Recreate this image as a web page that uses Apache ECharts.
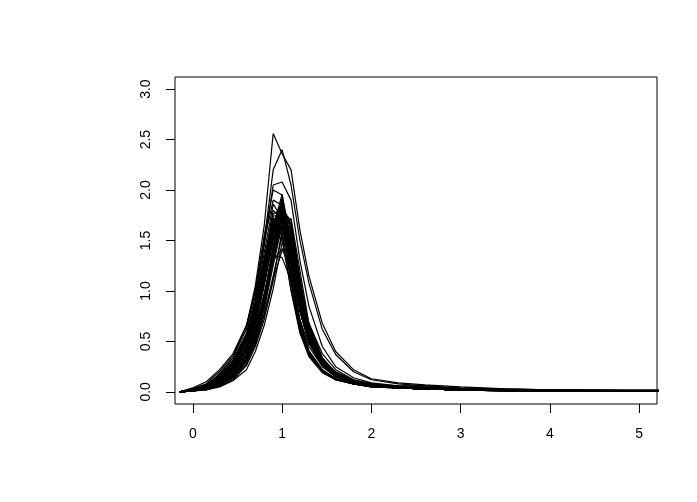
<!DOCTYPE html>
<html>
<head>
<meta charset="utf-8">
<script src="https://cdn.jsdelivr.net/npm/echarts@6/dist/echarts.min.js"></script>
<style>
  html, body { margin: 0; padding: 0; background: #fff; }
  #chart { width: 697px; height: 502px; }
</style>
</head>
<body>
<div id="chart"></div>
<script>
// shared x positions of the sample points
const xs = [-0.15, 0, 0.15, 0.3, 0.45, 0.6, 0.7, 0.8, 0.9, 1.0, 1.1, 1.2, 1.3, 1.45, 1.6, 1.8, 2.0, 2.3, 2.6, 3.0, 3.5, 4.0, 4.5, 5.0, 5.3];

// outlying curves (highest peaks / broad right side)
const out1 = [0, 0.03, 0.08, 0.2, 0.36, 0.65, 1.05, 1.65, 2.56, 2.36, 2.2, 1.6, 1.15, 0.68, 0.4, 0.22, 0.13, 0.09, 0.07, 0.05, 0.03, 0.02, 0.02, 0.02, 0.02];
const out2 = [0, 0.02, 0.07, 0.17, 0.32, 0.58, 0.95, 1.5, 2.2, 2.4, 2.05, 1.5, 1.08, 0.62, 0.37, 0.2, 0.12, 0.08, 0.06, 0.04, 0.03, 0.02, 0.02, 0.01, 0.01];
const out3 = [0, 0.02, 0.06, 0.15, 0.3, 0.55, 0.9, 1.45, 2.05, 2.08, 1.9, 1.3, 0.85, 0.45, 0.25, 0.14, 0.09, 0.06, 0.05, 0.03, 0.02, 0.02, 0.01, 0.01, 0.01];
const out4 = [0, 0.02, 0.06, 0.18, 0.34, 0.62, 1.0, 1.55, 2.0, 1.95, 1.5, 0.95, 0.6, 0.32, 0.2, 0.12, 0.08, 0.05, 0.04, 0.03, 0.02, 0.01, 0.01, 0.01, 0.01];
const out5 = [0, 0.04, 0.1, 0.22, 0.38, 0.66, 1.0, 1.5, 1.9, 1.85, 1.4, 0.85, 0.5, 0.27, 0.16, 0.1, 0.07, 0.05, 0.04, 0.03, 0.02, 0.02, 0.01, 0.01, 0.01];

// early-peaking curves
const e1 = [0, 0.02, 0.06, 0.14, 0.28, 0.52, 0.84, 1.3, 1.8, 1.7, 1.1, 0.62, 0.37, 0.2, 0.12, 0.08, 0.05, 0.04, 0.03, 0.02, 0.02, 0.01, 0.01, 0.01, 0.01];
const e2 = [0, 0.03, 0.07, 0.15, 0.29, 0.54, 0.86, 1.32, 1.72, 1.55, 1.0, 0.58, 0.35, 0.19, 0.12, 0.08, 0.05, 0.04, 0.03, 0.02, 0.02, 0.01, 0.01, 0.01, 0.01];
const e3 = [0, 0.02, 0.05, 0.13, 0.26, 0.5, 0.8, 1.25, 1.7, 1.78, 1.18, 0.66, 0.39, 0.21, 0.13, 0.08, 0.06, 0.04, 0.03, 0.02, 0.02, 0.01, 0.01, 0.01, 0.01];
const e4 = [0, 0.02, 0.06, 0.14, 0.27, 0.49, 0.8, 1.24, 1.62, 1.5, 1.02, 0.6, 0.36, 0.2, 0.12, 0.08, 0.05, 0.04, 0.03, 0.02, 0.01, 0.01, 0.01, 0.01, 0.01];
const e5 = [0, 0.03, 0.07, 0.16, 0.3, 0.56, 0.9, 1.38, 1.86, 1.72, 1.12, 0.64, 0.38, 0.21, 0.13, 0.09, 0.06, 0.04, 0.03, 0.02, 0.02, 0.01, 0.01, 0.01, 0.01];
const e6 = [0, 0.02, 0.06, 0.13, 0.26, 0.5, 0.82, 1.28, 1.76, 1.82, 1.25, 0.7, 0.41, 0.22, 0.13, 0.08, 0.06, 0.04, 0.03, 0.02, 0.02, 0.01, 0.01, 0.01, 0.01];
const e7 = [0, 0.02, 0.06, 0.14, 0.27, 0.51, 0.83, 1.29, 1.74, 1.76, 1.2, 0.68, 0.4, 0.22, 0.13, 0.08, 0.06, 0.04, 0.03, 0.02, 0.02, 0.01, 0.01, 0.01, 0.01];
const e8 = [0, 0.02, 0.06, 0.14, 0.28, 0.53, 0.85, 1.3, 1.68, 1.6, 1.08, 0.62, 0.37, 0.2, 0.12, 0.08, 0.05, 0.04, 0.03, 0.02, 0.01, 0.01, 0.01, 0.01, 0.01];

// main band
const m1 = [0, 0.02, 0.05, 0.12, 0.22, 0.44, 0.72, 1.15, 1.65, 1.85, 1.35, 0.82, 0.5, 0.27, 0.16, 0.1, 0.06, 0.04, 0.03, 0.02, 0.02, 0.01, 0.01, 0.01, 0.01];
const m2 = [0, 0.01, 0.04, 0.11, 0.21, 0.42, 0.7, 1.12, 1.6, 1.92, 1.4, 0.84, 0.51, 0.28, 0.16, 0.1, 0.06, 0.04, 0.03, 0.02, 0.02, 0.01, 0.01, 0.01, 0.01];
const m3 = [0, 0.02, 0.05, 0.12, 0.23, 0.45, 0.74, 1.17, 1.62, 1.76, 1.3, 0.8, 0.49, 0.26, 0.15, 0.09, 0.06, 0.04, 0.03, 0.02, 0.01, 0.01, 0.01, 0.01, 0.01];
const m4 = [0, 0.02, 0.05, 0.11, 0.22, 0.43, 0.71, 1.13, 1.58, 1.7, 1.32, 0.83, 0.5, 0.27, 0.16, 0.1, 0.06, 0.04, 0.03, 0.02, 0.02, 0.01, 0.01, 0.01, 0.01];
const m5 = [0, 0.01, 0.04, 0.1, 0.2, 0.41, 0.69, 1.1, 1.56, 1.82, 1.42, 0.86, 0.52, 0.28, 0.16, 0.1, 0.07, 0.05, 0.03, 0.02, 0.02, 0.01, 0.01, 0.01, 0.01];
const m6 = [0, 0.02, 0.05, 0.12, 0.24, 0.46, 0.75, 1.18, 1.66, 1.9, 1.38, 0.83, 0.5, 0.27, 0.15, 0.09, 0.06, 0.04, 0.03, 0.02, 0.02, 0.01, 0.01, 0.01, 0.01];
const m7 = [0, 0.02, 0.05, 0.11, 0.22, 0.42, 0.7, 1.1, 1.54, 1.64, 1.28, 0.8, 0.49, 0.27, 0.16, 0.1, 0.06, 0.04, 0.03, 0.02, 0.01, 0.01, 0.01, 0.01, 0.01];
const m8 = [0, 0.01, 0.04, 0.1, 0.21, 0.43, 0.72, 1.14, 1.61, 1.8, 1.36, 0.84, 0.51, 0.28, 0.16, 0.1, 0.06, 0.04, 0.03, 0.02, 0.02, 0.01, 0.01, 0.01, 0.01];
const m9 = [0, 0.02, 0.05, 0.12, 0.23, 0.44, 0.73, 1.16, 1.64, 1.74, 1.33, 0.81, 0.5, 0.27, 0.16, 0.09, 0.06, 0.04, 0.03, 0.02, 0.02, 0.01, 0.01, 0.01, 0.01];
const m10 = [0, 0.02, 0.05, 0.12, 0.24, 0.45, 0.74, 1.16, 1.6, 1.86, 1.44, 0.88, 0.54, 0.29, 0.17, 0.1, 0.07, 0.05, 0.04, 0.03, 0.02, 0.01, 0.01, 0.01, 0.01];
const m11 = [0, 0.01, 0.04, 0.1, 0.2, 0.4, 0.68, 1.08, 1.52, 1.68, 1.34, 0.85, 0.52, 0.28, 0.16, 0.1, 0.06, 0.04, 0.03, 0.02, 0.02, 0.01, 0.01, 0.01, 0.01];
const m12 = [0, 0.02, 0.05, 0.12, 0.23, 0.45, 0.73, 1.15, 1.63, 1.96, 1.42, 0.85, 0.51, 0.27, 0.15, 0.09, 0.06, 0.04, 0.03, 0.02, 0.01, 0.01, 0.01, 0.01, 0.01];
const m13 = [0, 0.02, 0.05, 0.11, 0.22, 0.43, 0.71, 1.12, 1.57, 1.77, 1.37, 0.84, 0.52, 0.29, 0.18, 0.11, 0.08, 0.06, 0.06, 0.03, 0.02, 0.02, 0.01, 0.01, 0.01];
const m14 = [0, 0.01, 0.04, 0.1, 0.21, 0.42, 0.7, 1.11, 1.59, 1.84, 1.46, 0.9, 0.56, 0.31, 0.18, 0.11, 0.07, 0.05, 0.04, 0.03, 0.02, 0.02, 0.01, 0.01, 0.01];
const m15 = [0, 0.02, 0.05, 0.12, 0.24, 0.47, 0.77, 1.2, 1.68, 1.8, 1.32, 0.8, 0.48, 0.26, 0.15, 0.09, 0.06, 0.04, 0.03, 0.02, 0.02, 0.01, 0.01, 0.01, 0.01];
const m16 = [0, 0.01, 0.04, 0.1, 0.21, 0.41, 0.69, 1.1, 1.58, 1.87, 1.45, 0.88, 0.53, 0.29, 0.17, 0.1, 0.06, 0.04, 0.03, 0.02, 0.02, 0.01, 0.01, 0.01, 0.01];
const m17 = [0, 0.02, 0.05, 0.11, 0.22, 0.42, 0.7, 1.11, 1.55, 1.72, 1.36, 0.86, 0.53, 0.29, 0.17, 0.1, 0.07, 0.05, 0.04, 0.03, 0.02, 0.01, 0.01, 0.01, 0.01];
const m18 = [0, 0.02, 0.05, 0.12, 0.23, 0.44, 0.72, 1.14, 1.62, 1.83, 1.4, 0.85, 0.52, 0.28, 0.16, 0.1, 0.06, 0.04, 0.03, 0.02, 0.02, 0.01, 0.01, 0.01, 0.01];
const m19 = [0, 0.02, 0.05, 0.11, 0.22, 0.43, 0.71, 1.12, 1.6, 1.9, 1.48, 0.9, 0.55, 0.3, 0.17, 0.1, 0.07, 0.05, 0.03, 0.02, 0.02, 0.01, 0.01, 0.01, 0.01];

// later-peaking curves
const l1 = [0, 0.01, 0.04, 0.08, 0.16, 0.33, 0.55, 0.88, 1.35, 1.8, 1.7, 1.1, 0.62, 0.32, 0.18, 0.1, 0.07, 0.05, 0.03, 0.02, 0.02, 0.01, 0.01, 0.01, 0.01];
const l2 = [0, 0.01, 0.03, 0.08, 0.17, 0.35, 0.58, 0.92, 1.4, 1.76, 1.6, 1.02, 0.6, 0.31, 0.17, 0.1, 0.07, 0.05, 0.03, 0.02, 0.02, 0.01, 0.01, 0.01, 0.01];
const l3 = [0, 0.01, 0.03, 0.07, 0.15, 0.31, 0.53, 0.86, 1.3, 1.7, 1.62, 1.05, 0.61, 0.32, 0.18, 0.1, 0.07, 0.05, 0.04, 0.03, 0.02, 0.01, 0.01, 0.01, 0.01];
const l4 = [0, 0.01, 0.04, 0.09, 0.18, 0.36, 0.6, 0.95, 1.45, 1.86, 1.62, 1.0, 0.58, 0.3, 0.17, 0.1, 0.06, 0.04, 0.03, 0.02, 0.02, 0.01, 0.01, 0.01, 0.01];
const l5 = [0, 0.01, 0.03, 0.08, 0.16, 0.32, 0.54, 0.87, 1.32, 1.64, 1.52, 1.0, 0.6, 0.31, 0.18, 0.1, 0.07, 0.05, 0.04, 0.03, 0.02, 0.01, 0.01, 0.01, 0.01];
const l6 = [0, 0.01, 0.04, 0.09, 0.18, 0.35, 0.59, 0.94, 1.42, 1.78, 1.55, 0.98, 0.58, 0.3, 0.17, 0.1, 0.06, 0.04, 0.03, 0.02, 0.02, 0.01, 0.01, 0.01, 0.01];
const l7 = [0, 0.01, 0.03, 0.07, 0.14, 0.29, 0.5, 0.82, 1.25, 1.66, 1.68, 1.12, 0.64, 0.33, 0.19, 0.11, 0.07, 0.05, 0.04, 0.03, 0.02, 0.02, 0.01, 0.01, 0.01];
const l8 = [0, 0.01, 0.04, 0.08, 0.17, 0.34, 0.57, 0.9, 1.38, 1.72, 1.58, 1.04, 0.62, 0.32, 0.18, 0.1, 0.07, 0.05, 0.03, 0.02, 0.02, 0.01, 0.01, 0.01, 0.01];
const l9 = [0, 0.01, 0.03, 0.08, 0.16, 0.33, 0.56, 0.9, 1.37, 1.83, 1.66, 1.06, 0.6, 0.31, 0.17, 0.1, 0.07, 0.05, 0.03, 0.02, 0.02, 0.01, 0.01, 0.01, 0.01];
const l10 = [0, 0.01, 0.04, 0.09, 0.17, 0.34, 0.58, 0.93, 1.43, 1.8, 1.5, 0.95, 0.57, 0.3, 0.17, 0.1, 0.06, 0.04, 0.03, 0.02, 0.02, 0.01, 0.01, 0.01, 0.01];
const l11 = [0, 0.01, 0.03, 0.07, 0.15, 0.3, 0.52, 0.85, 1.3, 1.74, 1.65, 1.08, 0.63, 0.32, 0.18, 0.11, 0.07, 0.05, 0.04, 0.03, 0.02, 0.02, 0.01, 0.01, 0.01];
const v1 = [0, 0.01, 0.02, 0.06, 0.12, 0.26, 0.45, 0.72, 1.1, 1.6, 1.72, 1.2, 0.68, 0.34, 0.19, 0.11, 0.07, 0.05, 0.04, 0.03, 0.02, 0.01, 0.01, 0.01, 0.01];
const v2 = [0, 0.01, 0.03, 0.06, 0.13, 0.27, 0.47, 0.76, 1.15, 1.55, 1.6, 1.12, 0.65, 0.33, 0.19, 0.11, 0.07, 0.05, 0.04, 0.03, 0.02, 0.02, 0.01, 0.01, 0.01];
const v3 = [0, 0.01, 0.02, 0.05, 0.11, 0.22, 0.4, 0.66, 1.02, 1.48, 1.58, 1.1, 0.64, 0.33, 0.18, 0.1, 0.07, 0.05, 0.03, 0.02, 0.02, 0.01, 0.01, 0.01, 0.01];

// low peaks and broad right shoulders
const lo1 = [0, 0.01, 0.04, 0.1, 0.2, 0.37, 0.6, 0.95, 1.3, 1.42, 1.2, 0.8, 0.5, 0.27, 0.16, 0.1, 0.06, 0.04, 0.03, 0.02, 0.02, 0.01, 0.01, 0.01, 0.01];
const lo2 = [0, 0.02, 0.05, 0.11, 0.22, 0.4, 0.63, 0.98, 1.35, 1.33, 1.1, 0.72, 0.45, 0.25, 0.15, 0.09, 0.06, 0.04, 0.03, 0.02, 0.01, 0.01, 0.01, 0.01, 0.01];
const lo3 = [0, 0.01, 0.03, 0.08, 0.16, 0.3, 0.5, 0.78, 1.12, 1.4, 1.38, 0.95, 0.58, 0.3, 0.17, 0.1, 0.07, 0.05, 0.03, 0.02, 0.02, 0.01, 0.01, 0.01, 0.01];
const w1 = [0, 0.01, 0.04, 0.1, 0.2, 0.39, 0.65, 1.05, 1.5, 1.7, 1.5, 1.05, 0.68, 0.38, 0.22, 0.12, 0.08, 0.05, 0.04, 0.03, 0.02, 0.02, 0.01, 0.01, 0.01];
const w2 = [0, 0.02, 0.05, 0.12, 0.24, 0.45, 0.73, 1.15, 1.6, 1.77, 1.42, 0.92, 0.6, 0.33, 0.19, 0.11, 0.07, 0.05, 0.04, 0.03, 0.02, 0.01, 0.01, 0.01, 0.01];

const curves = [out1, out2, out3, out4, out5, e1, e2, e3, e4, e5, e6, e7, e8,
  m1, m2, m3, m4, m5, m6, m7, m8, m9, m10, m11, m12, m13, m14, m15, m16, m17, m18, m19,
  l1, l2, l3, l4, l5, l6, l7, l8, l9, l10, l11, v1, v2, v3, lo1, lo2, lo3, w1, w2];

const xTicks = [0, 1, 2, 3, 4, 5];
const yTicks = [0, 0.5, 1, 1.5, 2, 2.5, 3];

var myChart = echarts.init(document.getElementById('chart'), null, { renderer: 'canvas' });

var series = curves.map(function (ys) {
  return {
    type: 'line',
    data: xs.map(function (x, i) { return [x, ys[i]]; }),
    symbol: 'none',
    silent: true,
    clip: true,
    lineStyle: { color: '#000', width: 1.2 }
  };
});

var axisFont = { fontFamily: 'Liberation Sans, Arial, sans-serif', fontSize: 14, color: '#000' };

var option = {
  animation: false,
  backgroundColor: '#fff',
  grid: {
    left: 175, right: 40, top: 77, bottom: 98,
    show: true, borderColor: '#000', borderWidth: 1, backgroundColor: 'transparent'
  },
  xAxis: {
    type: 'value',
    min: -0.2, max: 5.2,
    axisLine: { show: false, onZero: false },
    splitLine: { show: false },
    axisTick: { show: true, inside: false, length: 9, customValues: xTicks, lineStyle: { color: '#000' } },
    axisLabel: Object.assign({ show: true, margin: 23, customValues: xTicks }, axisFont)
  },
  yAxis: {
    type: 'value',
    min: -0.12, max: 3.12,
    axisLine: { show: false, onZero: false },
    splitLine: { show: false },
    axisTick: { show: true, inside: false, length: 9, customValues: yTicks, lineStyle: { color: '#000' } },
    axisLabel: Object.assign({
      show: true, margin: 22, rotate: 90, customValues: yTicks,
      formatter: function (v) { return v.toFixed(1); }
    }, axisFont)
  },
  series: series
};
option && myChart.setOption(option);
</script>
</body>
</html>
